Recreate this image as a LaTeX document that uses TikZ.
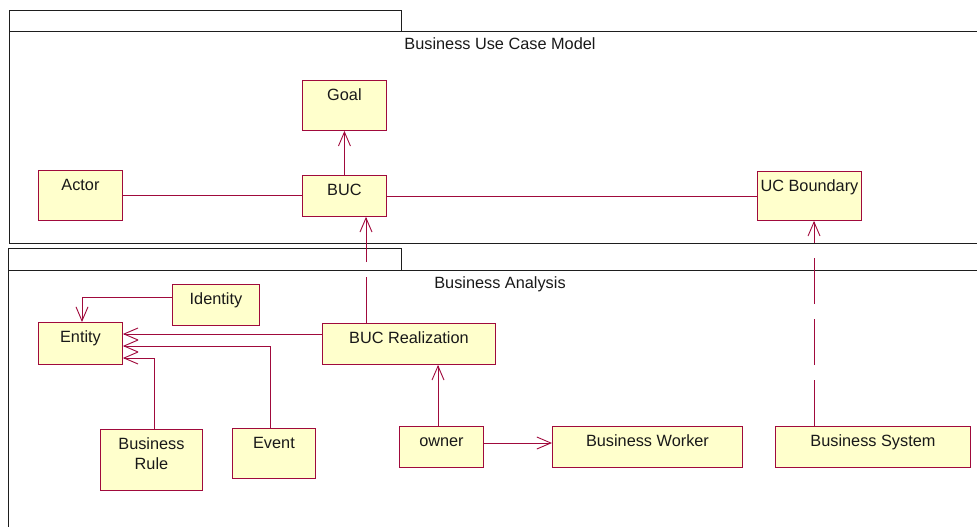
\documentclass[tikz,border=0pt]{standalone}
\usepackage{fontspec}
\setmainfont{Liberation Sans}
\usetikzlibrary{arrows.meta,calc}
\definecolor{umlline}{RGB}{160,10,60}
\definecolor{umlfill}{RGB}{255,255,204}
\definecolor{pkgline}{RGB}{30,30,30}
\begin{document}
\begin{tikzpicture}[x=1pt,y=-1pt,
  box/.style={draw=umlline, fill=umlfill, line width=0.9pt, inner sep=0pt, anchor=north west},
  txt/.style={font=\fontsize{16.3}{20}\selectfont, text=black!90, inner sep=0pt, anchor=base},
  conn/.style={draw=umlline, line width=0.9pt},
  arr/.style={conn, -{Straight Barb[length=14pt,width=12pt,line width=0.9pt]}},
  dep/.style={arr, dash pattern=on 46pt off 15pt},
  pkg/.style={draw=pkgline, line width=0.8pt}]
\useasboundingbox (0,0) rectangle (977,527);
\clip (0,0) rectangle (977,527);
% packages
\draw[pkg] (9,10) rectangle (401,31);
\draw[pkg] (9,31) rectangle (995,243);
\node[txt] (title1) at (500,50) {Business Use Case Model};
\draw[pkg] (8,248) rectangle (401,270);
\draw[pkg] (8,270) rectangle (995,545);
\node[txt] (title2) at (500,288) {Business Analysis};
% classes
\node[box, minimum width=84pt, minimum height=50pt, label={[txt,name=goalT,yshift=-20pt]north:Goal}] (goal) at (302,80) {};
\node[box, minimum width=84pt, minimum height=50pt, label={[txt,name=actorT,yshift=-20pt]north:Actor}] (actor) at (38,170) {};
\node[box, minimum width=84pt, minimum height=41pt, label={[txt,name=bucT,yshift=-20pt]north:BUC}] (buc) at (302,175) {};
\node[box, minimum width=104pt, minimum height=49pt, label={[txt,name=ucbT,yshift=-20pt]north:UC Boundary}] (ucb) at (757,171) {};
\node[box, minimum width=87pt, minimum height=41pt, label={[txt,name=identityT,yshift=-20pt]north:Identity}] (identity) at (172,284) {};
\node[box, minimum width=84pt, minimum height=42pt, label={[txt,name=entityT,yshift=-20pt]north:Entity}] (entity) at (38,322) {};
\node[box, minimum width=173pt, minimum height=41pt, label={[txt,name=bucrT,yshift=-20pt]north:BUC Realization}] (bucr) at (322,323) {};
\node[box, minimum width=102pt, minimum height=61pt, label={[txt,name=bruleT,yshift=-40pt,align=center]north:Business\\Rule}] (brule) at (100,429) {};
\node[box, minimum width=83pt, minimum height=50pt, label={[txt,name=eventT,yshift=-20pt]north:Event}] (event) at (232,428) {};
\node[box, minimum width=84pt, minimum height=41pt, label={[txt,name=ownerT,yshift=-20pt]north:owner}] (owner) at (399,426) {};
\node[box, minimum width=190pt, minimum height=41pt, label={[txt,name=bworkerT,yshift=-20pt]north:Business Worker}] (bworker) at (552,426) {};
\node[box, minimum width=195pt, minimum height=41pt, label={[txt,name=bsystemT,yshift=-20pt]north:Business System}] (bsystem) at (775,426) {};
% connectors
\draw[conn] (actor.east) -- (actor.east -| buc.west);
\draw[conn] (buc.east) -- (buc.east -| ucb.west);
\draw[arr] (buc.north) -- (goal.south);
\draw[dep] ([xshift=39pt]bsystem.north west) -- ([xshift=39pt]bsystem.north west |- ucb.south);
\draw[dep] ([xshift=44pt]bucr.north west) -- ([xshift=44pt]bucr.north west |- buc.south);
\draw[arr] ([yshift=-11pt]bucr.north west) -- ([yshift=-11pt]bucr.north west -| entity.east);
\draw[arr] ([xshift=38pt]event.north west) |- ([yshift=-24pt]entity.north east);
\draw[arr] ([xshift=54pt]brule.north west) |- ([yshift=-36pt]entity.north east);
\draw[arr] ([yshift=-13pt]identity.north west) -| ([xshift=44pt]entity.north west);
\draw[arr] ([xshift=39pt]owner.north west) -- ([xshift=39pt]owner.north west |- bucr.south);
\draw[arr] ([yshift=-17pt]owner.north east) -- ([yshift=-17pt]owner.north east -| bworker.west);
\end{tikzpicture}
\end{document}
